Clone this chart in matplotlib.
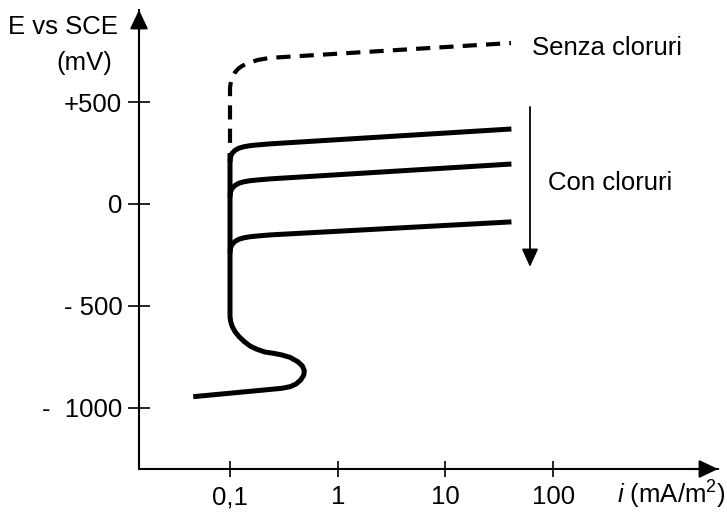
import matplotlib
matplotlib.use("Agg")
import matplotlib.pyplot as plt

plt.rcParams['font.family'] = ['Liberation Sans', 'DejaVu Sans']
plt.rcParams['mathtext.fontset'] = 'custom'
plt.rcParams['mathtext.rm'] = 'Liberation Sans'
plt.rcParams['mathtext.it'] = 'Liberation Sans:italic'

# ---- data (current density mA/m^2, potential mV vs SCE) ----
senza_i = [0.1, 0.1, 0.1011, 0.1033, 0.1066, 0.1113, 0.1187, 0.1292,
           0.147, 0.182, 0.235, 40.6]
senza_E = [300, 570, 589, 609, 628, 646, 663, 677, 692, 707, 717, 790]

main_i = [0.1, 0.1, 0.1015, 0.1050, 0.1113, 0.1212, 0.1358, 0.1533, 0.1770,
          0.2113, 0.2523, 0.3020, 0.3607, 0.4253, 0.4692, 0.4897, 0.4835,
          0.4533, 0.4101, 0.3607, 0.3020, 0.0456]
main_E = [250, -553, -578, -602, -627, -651, -676, -697, -713,
          -727, -733, -741, -753, -774, -795, -818, -841,
          -864, -884, -897, -905, -946]

con1_i = [0.1, 0.1011, 0.1044, 0.1113, 0.1212, 0.1349, 0.1533, 0.1819, 0.2352, 41]
con1_E = [206, 231, 248, 263, 274, 281, 286, 290, 295, 368]

con2_i = [0.1, 0.1011, 0.1044, 0.1113, 0.1212, 0.1349, 0.1533, 0.1819, 0.2352, 41]
con2_E = [34, 59, 76, 91, 102, 109, 114, 118, 123, 196]

con3_i = [0.1, 0.1011, 0.1044, 0.1113, 0.1212, 0.1349, 0.1533, 0.1819, 0.2352, 41]
con3_E = [-241, -216, -199, -184, -173, -166, -161, -157, -152, -88]

arrow_i = 61
arrow_E_start = 476
arrow_E_end = -309

xticks = [0.1, 1, 10, 100]
xticklabels = ['0,1', '1', '10', '100']
yticks = [500, 0, -500, -1000]
yticklabels = ['+500', '0', '- 500', '-  1000']

FS = 18.5

fig = plt.figure(figsize=(7.27, 5.12), dpi=100)
ax = fig.add_axes([139 / 727, 43 / 512, 579 / 727, 459 / 512])
ax.set_xscale('log')
ax.set_xlim(0.01429, 3396)
ax.set_ylim(-1301, 952)

for s in ['top', 'right']:
    ax.spines[s].set_visible(False)
for s in ['left', 'bottom']:
    ax.spines[s].set_linewidth(1.5)

ax.minorticks_off()
ax.set_xticks(xticks)
ax.set_xticklabels(xticklabels)
ax.set_yticks(yticks)
ax.set_yticklabels(yticklabels)
ax.tick_params(axis='x', direction='inout', length=11.5, width=1.2,
               labelsize=FS, pad=6)
ax.tick_params(axis='y', direction='inout', length=16, width=1.2,
               labelsize=FS, pad=4)
ax.minorticks_off()

# axis arrowheads
ax.annotate('', xy=(0, 1), xytext=(0, 0.95), xycoords='axes fraction',
            arrowprops=dict(arrowstyle='-|>,head_length=11.5,head_width=5.5',
                            mutation_scale=1, color='black', lw=1.5,
                            shrinkA=0, shrinkB=0), annotation_clip=False)
ax.annotate('', xy=(1, 0), xytext=(0.95, 0), xycoords='axes fraction',
            arrowprops=dict(arrowstyle='-|>,head_length=11.5,head_width=5.5',
                            mutation_scale=1, color='black', lw=1.5,
                            shrinkA=0, shrinkB=0), annotation_clip=False)

solid_kw = dict(color='black', lw=3.6, solid_joinstyle='round',
                solid_capstyle='butt')
ax.plot(main_i, main_E, **solid_kw)
ax.plot(con1_i, con1_E, **solid_kw)
ax.plot(con2_i, con2_E, **solid_kw)
ax.plot(con3_i, con3_E, **solid_kw)
ax.plot(senza_i, senza_E, color='black', lw=3.0, dashes=(3.4, 2.2),
        dash_capstyle='butt', dash_joinstyle='round')

# "Con cloruri" arrow
ax.annotate('', xy=(arrow_i, arrow_E_end), xytext=(arrow_i, arrow_E_start),
            arrowprops=dict(arrowstyle='-|>,head_length=11,head_width=5',
                            mutation_scale=1, color='black', lw=1.3,
                            shrinkA=0, shrinkB=0))

ax.text(532 / 727, 1 - 48 / 512, 'Senza cloruri', transform=fig.transFigure,
        fontsize=FS, ha='left', va='center')
ax.text(548 / 727, 1 - 183 / 512, 'Con cloruri', transform=fig.transFigure,
        fontsize=FS, ha='left', va='center')
fig.text(118 / 727, 1 - 27 / 512, 'E vs SCE', fontsize=FS, ha='right', va='center')
fig.text(112 / 727, 1 - 63 / 512, '(mV)', fontsize=FS, ha='right', va='center')
fig.text(726 / 727, 1 - 495 / 512, r'$\mathit{i}$ (mA/m$^{2}$)', fontsize=FS,
         ha='right', va='center')

fig.savefig('out.png', dpi=100)
